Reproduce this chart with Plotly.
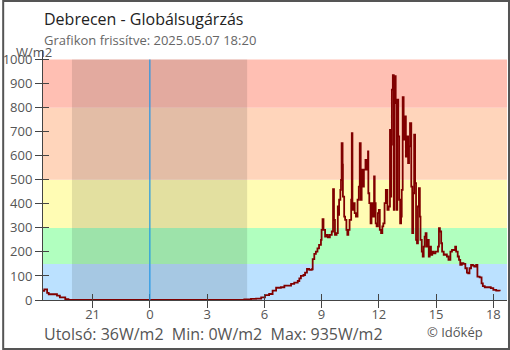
import plotly.graph_objects as go

# Global radiation readings, W/m2 (previous evening, then the current day)
evening_times = ["18:20", "18:28", "18:37", "18:42", "19:03", "19:08", "19:17",
                 "19:30", "19:34", "19:44"]
evening_values = [38, 44, 30, 24, 24, 18, 11, 11, 4, 0]

day_times = [
    "04:50", "04:57", "05:18", "05:34", "05:50", "06:02", "06:15", "06:26",
    "06:37", "06:52", "07:03", "07:24", "07:34", "07:45", "07:50", "07:55",
    "08:03", "08:08", "08:14", "08:21", "08:29", "08:32", "08:37", "08:42",
    "08:47", "08:52", "08:58", "09:00", "09:03", "09:06", "09:11", "09:15",
    "09:20", "09:26", "09:32", "09:36", "09:39", "09:42", "09:47", "09:51",
    "09:53", "09:55", "09:59", "10:01", "10:03", "10:06", "10:07", "10:11",
    "10:14", "10:18", "10:21", "10:24", "10:28", "10:33", "10:35", "10:37",
    "10:40", "10:44", "10:48", "10:53", "10:57", "11:00", "11:03", "11:06",
    "11:09", "11:13", "11:18", "11:21", "11:24", "11:26", "11:27", "11:30",
    "11:34", "11:37", "11:41", "11:45", "11:47", "11:50", "11:53", "11:57",
    "12:00", "12:03", "12:07", "12:11", "12:14", "12:18", "12:22", "12:27",
    "12:31", "12:35", "12:37", "12:39", "12:41", "12:44", "12:47", "12:49",
    "12:53", "12:56", "12:58", "13:01", "13:04", "13:07", "13:10", "13:12",
    "13:15", "13:18", "13:22", "13:25", "13:29", "13:32", "13:35", "13:38",
    "13:42", "13:45", "13:48", "13:51", "13:54", "13:57", "14:00", "14:03",
    "14:06", "14:09", "14:11", "14:15", "14:18", "14:21", "14:24", "14:27",
    "14:30", "14:34", "14:37", "14:40", "14:44", "14:48", "14:52", "14:58",
    "15:06", "15:09", "15:12", "15:16", "15:19", "15:24", "15:29", "15:34",
    "15:39", "15:45", "15:50", "15:55", "16:00", "16:03", "16:08", "16:12",
    "16:16", "16:21", "16:26", "16:32", "16:37", "16:41", "16:45", "16:50",
    "16:56", "17:00", "17:06", "17:10", "17:17", "17:23", "17:27", "17:33",
    "17:45", "17:52", "18:00", "18:09", "18:20",
]
day_values = [
    0, 3, 5, 6, 11, 20, 25, 39,
    51, 53, 60, 67, 72, 79, 90, 100,
    104, 114, 129, 125, 128, 170, 192, 201,
    215, 229, 250, 292, 336, 292, 264, 271,
    261, 271, 285, 461, 333, 271, 278, 389,
    354, 417, 458, 500, 653, 563, 430, 347,
    333, 292, 271, 292, 333, 417, 694, 375,
    403, 361, 347, 417, 472, 653, 417, 542,
    472, 542, 583, 542, 583, 618, 444, 403,
    319, 403, 347, 514, 403, 319, 306, 361,
    375, 292, 278, 306, 319, 403, 458, 375,
    389, 708, 430, 646, 875, 935, 375, 931,
    819, 375, 833, 681, 417, 319, 347, 458,
    844, 667, 764, 597, 681, 569, 639, 736,
    472, 278, 444, 688, 486, 250, 236, 389,
    465, 347, 250, 201, 181, 222, 264, 278,
    222, 250, 181, 222, 188, 201, 194, 201,
    222, 299, 285, 236, 201, 188, 190, 181,
    167, 201, 208, 208, 222, 201, 181, 167,
    146, 153, 150, 132, 114, 111, 132, 146,
    143, 139, 146, 97, 94, 69, 58, 53,
    53, 49, 42, 39, 36,
]

# Radiation level bands
band_edges = [0, 150, 300, 500, 800, 1000]
band_colors = ["#bbe1ff", "#b1ffbf", "#fffcb4", "#ffd5bb", "#ffbfb3"]

night_start = "2025-05-06 19:55"
night_end = "2025-05-07 05:06"
midnight = "2025-05-07 00:00"

x_tick_vals = ["2025-05-06 21:00", "2025-05-07 00:00", "2025-05-07 03:00",
               "2025-05-07 06:00", "2025-05-07 09:00", "2025-05-07 12:00",
               "2025-05-07 15:00", "2025-05-07 18:00"]
x_tick_text = ["21", "0", "3", "6", "9", "12", "15", "18"]
x_range = ["2025-05-06 18:24", "2025-05-07 18:43"]
y_tick_vals = list(range(0, 1001, 100))
y_range = [0, 1040]

times = ["2025-05-06 " + t for t in evening_times] + ["2025-05-07 " + t for t in day_times]
values = evening_values + day_values

FONT = "Open Sans"
AXIS = "#444444"
TEXT = "#555555"

fig = go.Figure()
fig.add_trace(go.Scatter(
    x=times, y=values, mode="lines", line=dict(color="#800000", width=1.8, shape="hv"),
    hoverinfo="skip", showlegend=False,
))
# invisible trace carrying the overlay axes used for the inner tick halves
fig.add_trace(go.Scatter(
    x=[times[-1]], y=[0], xaxis="x2", yaxis="y2", mode="markers",
    marker=dict(opacity=0), hoverinfo="skip", showlegend=False,
))

shapes = []
for lo, hi, col in zip(band_edges[:-1], band_edges[1:], band_colors):
    shapes.append(dict(type="rect", xref="paper", yref="y", x0=0, x1=1, y0=lo, y1=hi,
                       fillcolor=col, line_width=0, layer="below"))
shapes.append(dict(type="rect", xref="x", yref="y", x0=night_start, x1=night_end,
                   y0=0, y1=band_edges[-1], fillcolor="rgba(0,0,0,0.11)",
                   line_width=0, layer="below"))
# midnight marker
shapes.append(dict(type="line", xref="x", yref="y", x0=midnight, x1=midnight,
                   y0=0, y1=band_edges[-1], line=dict(color="#1e96e6", width=1.2),
                   layer="above"))
# outer frame
shapes.append(dict(type="rect", xref="paper", yref="paper",
                   x0=-0.0858, x1=1.0043, y0=-0.196, y1=1.196,
                   line=dict(color="#555555", width=2), fillcolor="rgba(0,0,0,0)"))

last_v = values[-1]
min_v = min(values)
max_v = max(values)

annotations = [
    dict(text="Debrecen - Globálsugárzás", x=-0.002, y=1.126, xref="paper", yref="paper",
         xanchor="left", yanchor="middle", showarrow=False,
         font=dict(family=FONT, size=16, color="#222222")),
    dict(text="Grafikon frissítve: 2025.05.07 18:20", x=-0.002, y=1.04, xref="paper",
         yref="paper", xanchor="left", yanchor="middle", showarrow=False,
         font=dict(family=FONT, size=13, color="#666666")),
    dict(text="W/m2", x=-0.062, y=0.994, xref="paper", yref="paper",
         xanchor="left", yanchor="middle", showarrow=False,
         font=dict(family=FONT, size=13, color=TEXT)),
    dict(text=f"Utolsó: {last_v}W/m2\u00a0\u00a0Min: {min_v}W/m2\u00a0\u00a0Max: {max_v}W/m2",
         x=-0.002, y=-0.134, xref="paper", yref="paper", xanchor="left", yanchor="middle",
         showarrow=False, font=dict(family=FONT, size=16, color=TEXT)),
    dict(text="© Időkép", x=0.824, y=-0.126, xref="paper", yref="paper",
         xanchor="left", yanchor="middle", showarrow=False,
         font=dict(family=FONT, size=13, color=TEXT)),
]

fig.update_layout(
    width=510, height=350,
    margin=dict(l=41, r=3, t=50, b=50),
    paper_bgcolor="white", plot_bgcolor="white",
    font=dict(family=FONT, size=13, color=TEXT),
    shapes=shapes, annotations=annotations,
    xaxis=dict(type="date", range=x_range, tickvals=x_tick_vals, ticktext=x_tick_text,
               showgrid=False, zeroline=False, showline=True, linecolor=AXIS, linewidth=1,
               ticks="outside", ticklen=7, tickcolor=AXIS, tickwidth=1,
               ticklabelstandoff=-5,
               tickfont=dict(family=FONT, size=13, color=TEXT)),
    yaxis=dict(range=y_range, tickvals=y_tick_vals, showgrid=False, zeroline=False,
               showline=True, linecolor=AXIS, linewidth=1, ticks="outside", ticklen=7,
               tickcolor=AXIS, tickwidth=1,
               tickfont=dict(family=FONT, size=13, color=TEXT)),
    xaxis2=dict(type="date", range=x_range, overlaying="x", anchor="y2", side="bottom",
                tickvals=x_tick_vals, showticklabels=False, showgrid=False, zeroline=False,
                showline=False, ticks="inside", ticklen=6, tickcolor=AXIS, tickwidth=1),
    yaxis2=dict(range=y_range, overlaying="y", anchor="x2", side="left",
                tickvals=y_tick_vals, showticklabels=False, showgrid=False, zeroline=False,
                showline=False, ticks="inside", ticklen=6, tickcolor=AXIS, tickwidth=1),
)

fig.write_html("out.html")
